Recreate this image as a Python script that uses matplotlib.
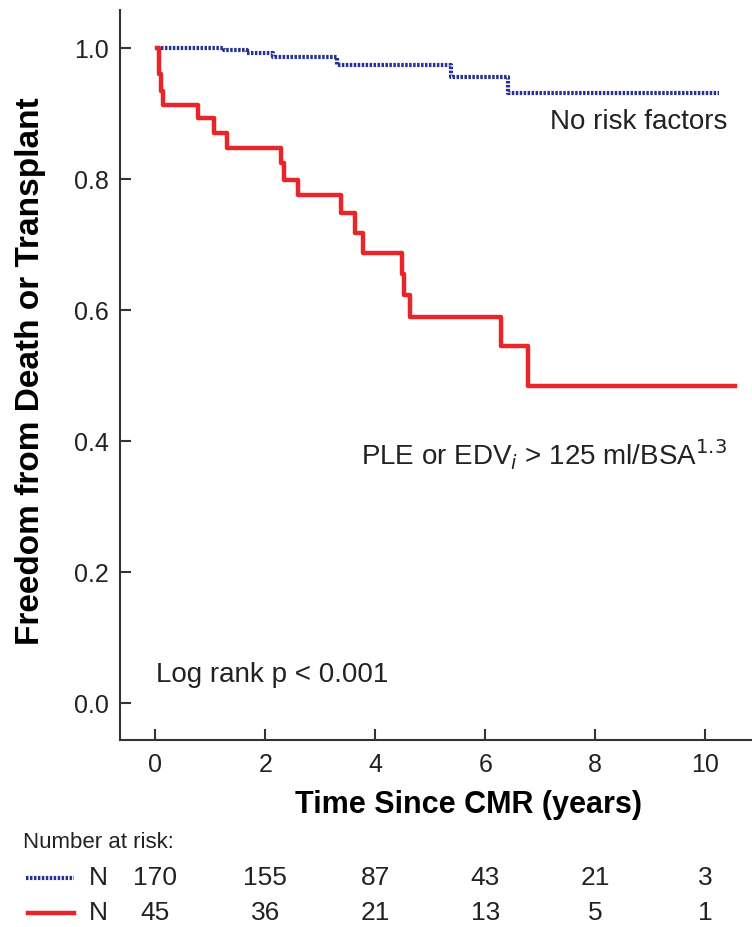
import matplotlib
matplotlib.use("Agg")
import matplotlib.pyplot as plt
from matplotlib.lines import Line2D

plt.rcParams['font.family'] = ['Liberation Sans', 'DejaVu Sans']

# Kaplan-Meier curves
t_none = [0.04, 1.25, 1.67, 2.15, 3.30, 5.38, 6.42, 10.25]
s_none = [1.000, 0.997, 0.993, 0.987, 0.974, 0.956, 0.931, 0.931]

t_risk = [0.03, 0.06, 0.10, 0.15, 0.78, 1.07, 1.30, 2.29, 2.34, 2.60, 3.38,
          3.63, 3.78, 4.49, 4.53, 4.63, 6.29, 6.78, 10.55]
s_risk = [1.000, 0.960, 0.935, 0.913, 0.893, 0.870, 0.848, 0.824, 0.798, 0.775,
          0.748, 0.718, 0.687, 0.655, 0.623, 0.590, 0.545, 0.484, 0.484]

risk_times = [0, 2, 4, 6, 8, 10]
n_none = [170, 155, 87, 43, 21, 3]
n_risk = [45, 36, 21, 13, 5, 1]

blue = '#27318f'
red = '#e8262a'
txt = '#222222'

fig = plt.figure(figsize=(7.52, 9.27), dpi=100)
ax = fig.add_axes([120 / 752, 1 - 740 / 927, 632 / 752, 730 / 927])

ax.step(t_none, s_none, where='post', color=blue, lw=3.0, ls=(0, (0.6, 0.35)))
ax.step(t_risk, s_risk, where='post', color=red, lw=3.2)

ax.set_xlim(-0.64, 10.85)
ax.set_ylim(-0.056, 1.058)
ax.set_xticks([0, 2, 4, 6, 8, 10])
ax.set_yticks([0.0, 0.2, 0.4, 0.6, 0.8, 1.0])
ax.set_yticklabels(['0.0', '0.2', '0.4', '0.6', '0.8', '1.0'])
ax.tick_params(direction='in', length=8, width=1.5, labelsize=18, color='#333333',
               labelcolor=txt)
ax.tick_params(axis='x', pad=9)
ax.tick_params(axis='y', pad=8)
for s in ['top', 'right']:
    ax.spines[s].set_visible(False)
for s in ['left', 'bottom']:
    ax.spines[s].set_linewidth(1.5)
    ax.spines[s].set_color('#333333')

ax.set_xlabel('Time Since CMR (years)', fontsize=22, fontweight='bold')
ax.xaxis.set_label_coords(0.552, -0.069)
ax.set_ylabel('Freedom from Death or Transplant', fontsize=24, fontweight='bold')
ax.yaxis.set_label_coords(-0.117, 0.505)

ax.text(10.4, 0.887, 'No risk factors', fontsize=20, ha='right', va='center', color=txt)
ax.text(10.4, 0.379, r'PLE or EDV$_i$ > 125 ml/BSA$^{1.3}$', fontsize=20, ha='right',
        va='center', color=txt)
ax.text(0.02, 0.043, 'Log rank p < 0.001', fontsize=20, ha='left', va='center', color=txt)

# number at risk table
fig.text(23 / 752, 1 - 842 / 927, 'Number at risk:', fontsize=16, ha='left', va='center',
         color=txt)
row_y = [1 - 878 / 927, 1 - 913 / 927]
fig.add_artist(Line2D([26 / 752, 74 / 752], [row_y[0]] * 2, color=blue, lw=3.0,
                      ls=(0, (0.6, 0.35))))
fig.add_artist(Line2D([28 / 752, 74 / 752], [row_y[1]] * 2, color=red, lw=3.2))
for y, counts in zip(row_y, [n_none, n_risk]):
    fig.text(98 / 752, y, 'N', fontsize=19, ha='center', va='center', color=txt)
    for t, n in zip(risk_times, counts):
        xf = ax.transData.transform((t, 0))[0] / fig.bbox.width
        fig.text(xf, y, str(n), fontsize=19, ha='center', va='center', color=txt)

fig.savefig('out.png', dpi=100)
